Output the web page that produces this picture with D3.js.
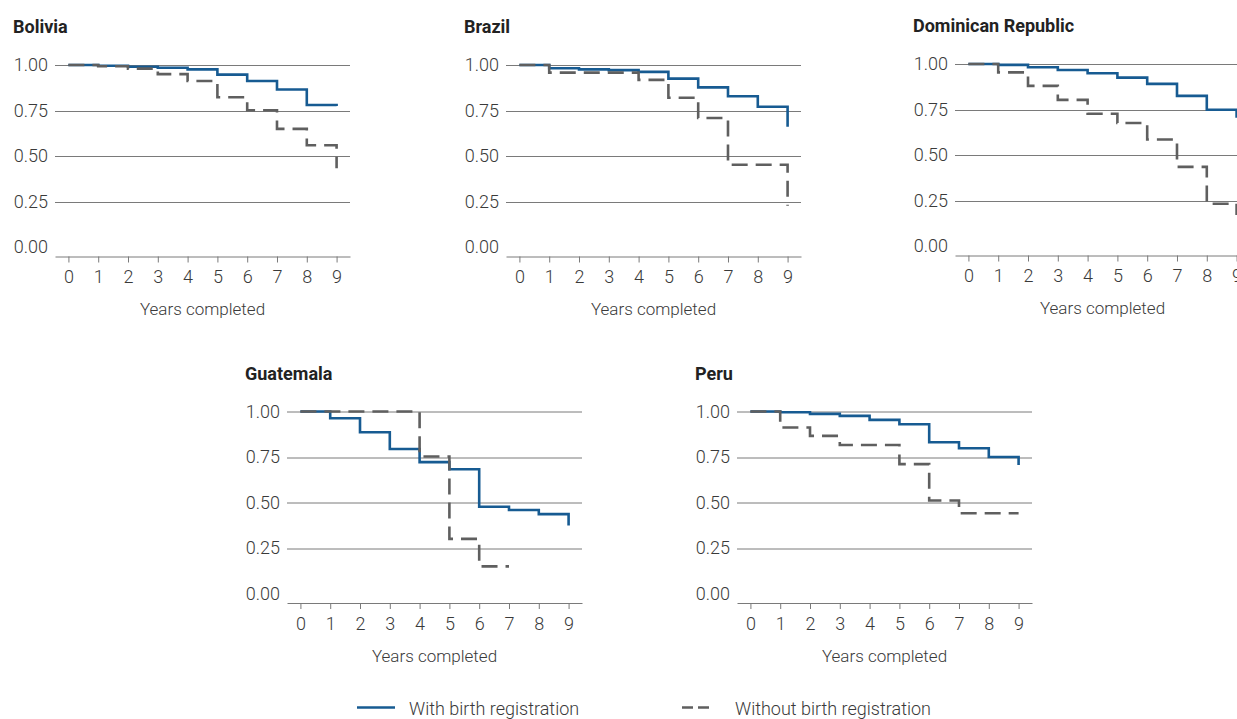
<!DOCTYPE html>
<html>
<head>
<meta charset="utf-8">
<script src="https://cdn.jsdelivr.net/npm/d3@7"></script>
<style>
  body { margin: 0; background: #fff; }
  svg text { font-family: Roboto, "Liberation Sans", sans-serif; }
</style>
</head>
<body>
<div id="chart"></div>
<script>
// years completed, step points
var years = [0, 1, 2, 3, 4, 5, 6, 7, 8, 9];
var yTicks = [0, 0.25, 0.5, 0.75, 1];

// survival estimates
var boliviaWith      = [1, 0.996, 0.99, 0.985, 0.976, 0.947, 0.912, 0.865, 0.78, 0.775];
var boliviaWithout   = [1, 0.993, 0.98, 0.95, 0.912, 0.823, 0.751, 0.649, 0.559, 0.433];
var brazilWith       = [1, 0.982, 0.976, 0.972, 0.962, 0.925, 0.877, 0.828, 0.771, 0.661];
var brazilWithout    = [1, 0.958, 0.958, 0.958, 0.918, 0.82, 0.709, 0.452, 0.452, 0.227];
var dominicanWith    = [1, 0.995, 0.982, 0.967, 0.949, 0.925, 0.891, 0.825, 0.749, 0.705];
var dominicanWithout = [1, 0.954, 0.88, 0.803, 0.727, 0.676, 0.585, 0.435, 0.232, 0.17];
var guatemalaWith    = [1, 0.963, 0.886, 0.794, 0.722, 0.683, 0.477, 0.459, 0.436, 0.374];
var guatemalaWithout = [1, 1, 1, 1, 0.753, 0.3, 0.149, 0.149];
var peruWith         = [1, 0.996, 0.987, 0.976, 0.954, 0.93, 0.831, 0.798, 0.75, 0.706];
var peruWithout      = [1, 0.912, 0.866, 0.816, 0.816, 0.711, 0.511, 0.441, 0.441, 0.441];

var countries = ["Bolivia", "Brazil", "Dominican Republic", "Guatemala", "Peru"];
var legendLabels = ["With birth registration", "Without birth registration"];

var blue = "#175b92";
var grey = "#5f5f5f";
var textColor = "#3a3a3a";

var panels = [
  {name: countries[0], left: 55,  top: 65,  w: boliviaWith,   wo: boliviaWithout},
  {name: countries[1], left: 506, top: 65,  w: brazilWith,    wo: brazilWithout},
  {name: countries[2], left: 955, top: 64,  w: dominicanWith, wo: dominicanWithout},
  {name: countries[3], left: 287, top: 411.5, w: guatemalaWith, wo: guatemalaWithout},
  {name: countries[4], left: 737, top: 411.5, w: peruWith,      wo: peruWithout}
];

var width = 1237, height = 719;
var pw = 295, ph = 182, axisOffset = 191;

var svg = d3.select("#chart").append("svg")
  .attr("width", width)
  .attr("height", height);

svg.append("rect").attr("width", width).attr("height", height).attr("fill", "#fff");

var xScale = d3.scaleLinear().domain([-0.45, 9.45]).range([0, pw]);
var yScale = d3.scaleLinear().domain([0, 1]).range([ph, 0]);

var line = d3.line()
  .x(d => xScale(d.x))
  .y(d => yScale(d.y))
  .curve(d3.curveStepAfter);

function toPoints(vals) {
  return vals.map(function(v, i) { return {x: years[i], y: v}; });
}

panels.forEach(function(p) {
  var g = svg.append("g").attr("transform", `translate(${p.left}, ${p.top})`);

  g.append("text")
    .attr("x", -42)
    .attr("y", -32)
    .attr("font-size", "18px")
    .attr("font-weight", "bold")
    .attr("fill", "#222")
    .text(p.name);

  /* gridlines */
  g.append("g")
    .selectAll("line")
    .data(yTicks.filter(t => t > 0)).enter()
    .append("line")
    .attr("x1", 0).attr("x2", pw)
    .attr("y1", d => Math.round(yScale(d)) + 0.5)
    .attr("y2", d => Math.round(yScale(d)) + 0.5)
    .attr("stroke", "#7a7a7a")
    .attr("stroke-width", 1);

  /* y labels */
  var yAxis = d3.axisLeft(yScale).tickValues(yTicks).tickFormat(d3.format(".2f"))
    .tickSize(0).tickPadding(7);
  var ya = g.append("g").call(yAxis);
  ya.select(".domain").remove();
  ya.selectAll("text").attr("font-size", "18px").attr("font-weight", 300).attr("fill", textColor)
    .attr("font-family", "Roboto, sans-serif");

  /* x axis */
  var xAxis = d3.axisBottom(xScale).tickValues(years).tickSizeInner(6).tickSizeOuter(0).tickPadding(8);
  var xa = g.append("g")
    .attr("transform", `translate(0, ${axisOffset + 0.5})`)
    .call(xAxis);
  xa.select(".domain").attr("stroke", "#7a7a7a");
  xa.selectAll(".tick line").attr("stroke", "#7a7a7a");
  xa.selectAll("text").attr("font-size", "18px").attr("font-weight", 300).attr("fill", textColor)
    .attr("font-family", "Roboto, sans-serif");

  g.append("text")
    .attr("x", pw / 2)
    .attr("y", axisOffset + 59)
    .attr("text-anchor", "middle")
    .attr("font-size", "17px")
    .attr("font-weight", 300)
    .attr("fill", textColor)
    .text("Years completed");

  /* step lines */
  g.append("path")
    .attr("d", line(toPoints(p.w)))
    .attr("fill", "none")
    .attr("stroke", blue)
    .attr("stroke-width", 2.6);

  g.append("path")
    .attr("d", line(toPoints(p.wo)))
    .attr("fill", "none")
    .attr("stroke", grey)
    .attr("stroke-width", 2.6)
    .attr("stroke-dasharray", "16,8");
});

/* legend */
var legend = svg.append("g").attr("transform", "translate(357, 707.5)");
legend.append("line").attr("x1", 0).attr("x2", 38).attr("stroke", blue).attr("stroke-width", 2.6);
legend.append("text").attr("x", 52).attr("y", 7).attr("font-size", "18px").attr("font-weight", 300)
  .attr("fill", textColor).text(legendLabels[0]);

var legend2 = svg.append("g").attr("transform", "translate(682, 707.5)");
legend2.append("line").attr("x1", 0).attr("x2", 27).attr("stroke", grey).attr("stroke-width", 2.6)
  .attr("stroke-dasharray", "11,5");
legend2.append("text").attr("x", 53).attr("y", 7).attr("font-size", "18px").attr("font-weight", 300)
  .attr("fill", textColor).text(legendLabels[1]);
</script>
</body>
</html>
